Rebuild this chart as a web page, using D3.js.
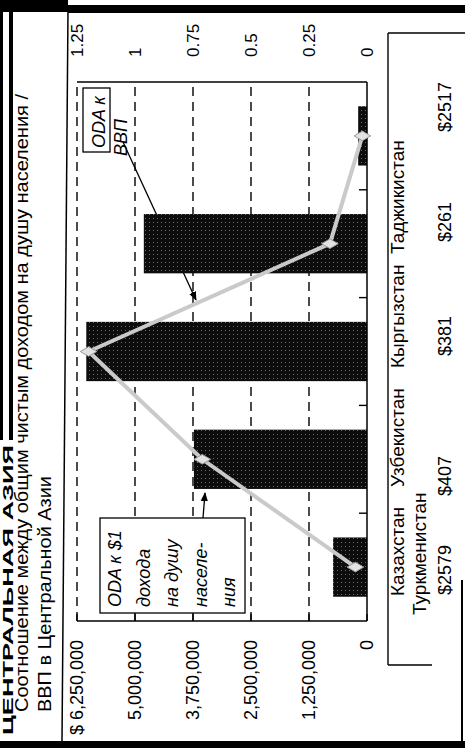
<!DOCTYPE html>
<html><head><meta charset="utf-8">
<script src="https://cdn.jsdelivr.net/npm/d3@7"></script>
<style>
html,body{margin:0;padding:0;background:#fff;}
svg{display:block;font-family:"Liberation Sans",Arial,sans-serif;}
</style></head>
<body>
<svg id="c" width="465" height="748"></svg>
<script>
// ---- data ----
const categories   = ["Казахстан","Туркменистан","Узбекистан","Кыргызстан","Таджикистан"];
const incomeLabels = ["$2579","$2517","$407","$381","$261"];
const odaValues    = [730000, 3730000, 6050000, 4810000, 190000];
const ratioValues  = [0.05, 0.71, 1.2, 0.16, 0.02];
const leftTicks    = [0, 1250000, 2500000, 3750000, 5000000, 6250000];
const rightTicks   = [0, 0.25, 0.5, 0.75, 1, 1.25];
const titleLines   = ["Соотношение между общим чистым доходом на душу населения /","ВВП в Центральной Азии"];
const headerText   = "ЦЕНТРАЛЬНАЯ АЗИЯ";
const legendBar    = ["ODA к","ВВП"];
const legendLine   = ["ODA к $1","дохода","на душу","населе-","ния"];

const svg = d3.select("#c");
const defs = svg.append("defs");
const pat = defs.append("pattern").attr("id","dots").attr("width",4).attr("height",4).attr("patternUnits","userSpaceOnUse");
pat.append("rect").attr("width",4).attr("height",4).attr("fill","#0d0d0d");
pat.append("rect").attr("x",1).attr("y",1).attr("width",1).attr("height",1).attr("fill","#6a6a6a");
const mk = defs.append("marker").attr("id","arr").attr("viewBox","0 0 10 10").attr("refX",9).attr("refY",5)
  .attr("markerWidth",7).attr("markerHeight",7).attr("orient","auto");
mk.append("path").attr("d","M0,1L10,5L0,9z").attr("fill","#000");

// whole chart is drawn in its own orientation, then turned a quarter turn
const g = svg.append("g").attr("transform","translate(0,748) rotate(-90)");

const x = d3.scaleBand().domain(categories).range([127, 666]).paddingInner(0.45).paddingOuter(0.225);
const yL = d3.scaleLinear().domain([0, 6250000]).range([367, 77]);
const yR = d3.scaleLinear().domain([0, 1.25]).range([367, 77]);
const fmt = d3.format(",");

// gridlines (dashed)
g.selectAll(".grid").data(leftTicks.filter(d=>d>0)).join("line")
  .attr("x1",127).attr("x2",666).attr("y1",d=>yL(d)).attr("y2",d=>yL(d))
  .attr("stroke","#000").attr("stroke-width",1.4).attr("stroke-dasharray","9,6");

// leader arrow for bar legend (partly hidden by bar)
g.append("line").attr("x1",606).attr("y1",123).attr("x2",448).attr("y2",196)
  .attr("stroke","#000").attr("stroke-width",1.3).attr("marker-end","url(#arr)");

// bars
g.selectAll(".bar").data(categories).join("rect")
  .attr("x",d=>x(d)).attr("width",x.bandwidth())
  .attr("y",(d,i)=>yL(odaValues[i])).attr("height",(d,i)=>yL(0)-yL(odaValues[i]))
  .attr("fill","url(#dots)");

// frame
g.append("line").attr("x1",127).attr("x2",666).attr("y1",367).attr("y2",367).attr("stroke","#000").attr("stroke-width",1.5);
g.append("line").attr("x1",127).attr("x2",127).attr("y1",77).attr("y2",367).attr("stroke","#000").attr("stroke-width",1.5);
g.append("line").attr("x1",666).attr("x2",666).attr("y1",77).attr("y2",367).attr("stroke","#000").attr("stroke-width",1.5);

// category boundary ticks
const step = x.step();
g.selectAll(".ctick").data(categories.slice(1)).join("line")
  .attr("x1",d=>x(d)-x.paddingInner()*step/2).attr("x2",d=>x(d)-x.paddingInner()*step/2)
  .attr("y1",367).attr("y2",359).attr("stroke","#000").attr("stroke-width",1.4);
// value ticks
g.selectAll(".vtick").data(leftTicks).join("line")
  .attr("x1",127).attr("x2",134).attr("y1",d=>yL(d)).attr("y2",d=>yL(d)).attr("stroke","#000").attr("stroke-width",1.4);

// ratio line
const line = d3.line().x((d,i)=>x(categories[i])+x.bandwidth()/2).y(d=>yR(d));
g.append("path").datum(ratioValues).attr("d",line).attr("fill","none")
  .attr("stroke","#cacaca").attr("stroke-width",4);
g.selectAll(".pt").data(ratioValues).join("path")
  .attr("transform",(d,i)=>`translate(${x(categories[i])+x.bandwidth()/2},${yR(d)})`)
  .attr("d",d3.symbol(d3.symbolDiamond).size(80)).attr("fill","#e2e2e2").attr("stroke","#9a9a9a").attr("stroke-width",1);

// left axis labels
g.selectAll(".ll").data(leftTicks).join("text")
  .attr("x",108).attr("y",d=>yL(d)).attr("dy","0.35em").attr("text-anchor","end")
  .attr("font-size",18).text(d=> d===6250000 ? "$ "+fmt(d) : fmt(d));
// right axis labels
g.selectAll(".rl").data(rightTicks).join("text")
  .attr("x",691).attr("y",d=>yR(d)).attr("dy","0.35em").attr("text-anchor","start")
  .attr("font-size",17).text(d=>d3.format("")(d));

// title
g.append("text").attr("x",36).attr("y",28).attr("font-size",18).attr("textLength",618).attr("lengthAdjust","spacingAndGlyphs").text(titleLines[0]);
g.append("text").attr("x",36).attr("y",51).attr("font-size",18).attr("textLength",236).attr("lengthAdjust","spacingAndGlyphs").text(titleLines[1]);
// header at the page edge
g.append("text").attr("x",13).attr("y",13).attr("font-size",15).attr("font-weight","bold").attr("textLength",290).attr("lengthAdjust","spacingAndGlyphs").text(headerText);

// category label box
g.append("line").attr("x1",83).attr("x2",715).attr("y1",388).attr("y2",388).attr("stroke","#000").attr("stroke-width",1.4);
g.append("line").attr("x1",83).attr("x2",83).attr("y1",388).attr("y2",432).attr("stroke","#000").attr("stroke-width",1.4);
g.append("line").attr("x1",715).attr("x2",715).attr("y1",388).attr("y2",465).attr("stroke","#000").attr("stroke-width",1.4);

// category labels (wrapped layout as in original)
const nameLayout = [{i:0,u:152,v:404},{i:1,u:133,v:426},{i:2,u:261,v:404},{i:3,u:380,v:404},{i:4,u:494,v:404}];
g.selectAll(".cl").data(nameLayout).join("text")
  .attr("x",d=>d.u).attr("y",d=>d.v).attr("font-size",19).text(d=>categories[d.i]);
const valLayout = [{i:0,u:153},{i:1,u:616},{i:2,u:252},{i:3,u:392},{i:4,u:506}];
g.selectAll(".vl").data(valLayout).join("text")
  .attr("x",d=>d.u).attr("y",451).attr("font-size",18).text(d=>incomeLabels[d.i]);

// legend: bars
g.append("rect").attr("x",596).attr("y",83).attr("width",64).attr("height",27).attr("fill","#fff").attr("stroke","#000").attr("stroke-width",1.3);
g.append("text").attr("x",600).attr("y",105).attr("font-size",18).attr("font-style","italic").text(legendBar[0]);
g.append("text").attr("x",592).attr("y",127).attr("font-size",18).attr("font-style","italic").text(legendBar[1]);

// legend: line
g.append("rect").attr("x",135).attr("y",100).attr("width",95).attr("height",145).attr("fill","#fff").attr("stroke","#000").attr("stroke-width",1.3);
g.selectAll(".lg").data(legendLine).join("text")
  .attr("x",141).attr("y",(d,i)=>121+i*28.5).attr("font-size",18).attr("font-style","italic").text(d=>d);
g.append("line").attr("x1",230).attr("y1",203).attr("x2",255).attr("y2",205)
  .attr("stroke","#000").attr("stroke-width",1.3).attr("marker-end","url(#arr)");

// scan borders
svg.append("rect").attr("x",0).attr("y",0).attr("width",3).attr("height",440).attr("fill","#000");
svg.append("rect").attr("x",9).attr("y",10).attr("width",4).attr("height",430).attr("fill","#000");
svg.append("rect").attr("x",0).attr("y",0).attr("width",68).attr("height",12).attr("fill","#000");
svg.append("rect").attr("x",68).attr("y",5).attr("width",397).attr("height",8).attr("fill","#000");
svg.append("rect").attr("x",0).attr("y",741).attr("width",465).attr("height",7).attr("fill","#000");
svg.append("line").attr("x1",68).attr("y1",10).attr("x2",62).attr("y2",741).attr("stroke","#000").attr("stroke-width",1.5);
svg.append("line").attr("x1",462).attr("y1",580).attr("x2",462).attr("y2",748).attr("stroke","#000").attr("stroke-width",2);
</script>
</body></html>
